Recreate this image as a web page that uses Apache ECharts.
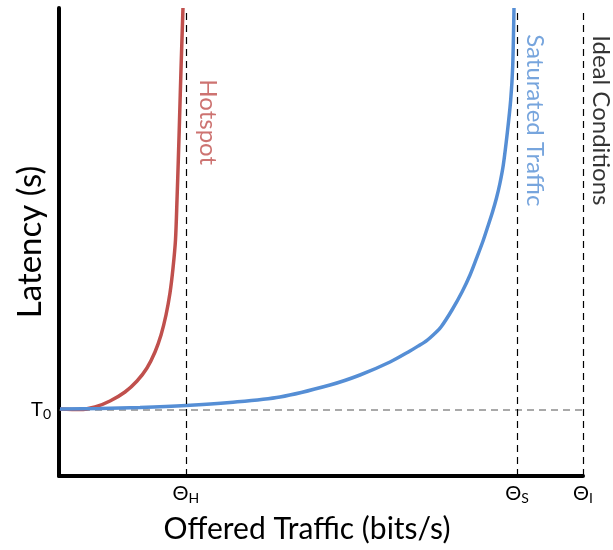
<!DOCTYPE html>
<html><head><meta charset="utf-8">
<script src="https://cdn.jsdelivr.net/npm/echarts@6/dist/echarts.min.js"></script>
<style>html,body{margin:0;padding:0;background:#fff}#c{width:613px;height:550px}</style>
</head><body><div id="c"></div>
<script>
// Data (arbitrary units: x 0-100 offered traffic, y 0-100 latency)
const T0 = 14.1;
const thetaH = 24.2, thetaS = 87.4, thetaI = 100;
const hotspot = [[0.19,14.32],[4.01,14.21],[6.87,14.74],[9.73,16.03],[12.6,17.95],[14.89,20.3],[16.79,23.08],[18.32,26.5],[19.47,30.13],[20.42,34.4],[21.18,39.1],[21.76,44.44],[22.23,50.43],[22.52,58.97],[22.77,67.52],[23.0,76.07],[23.28,86.75],[23.66,100]];
const saturated = [[0.19,14.32],[7.82,14.42],[15.46,14.64],[24.24,15.06],[32.63,15.71],[42.18,16.88],[51.72,19.44],[57.44,21.58],[63.17,24.36],[66.98,26.71],[68.51,27.75],[70.23,29.0],[71.56,30.3],[72.9,31.84],[75.0,35.47],[76.91,39.32],[78.44,42.95],[79.77,46.79],[80.92,50.21],[81.87,53.42],[82.73,56.41],[83.49,59.4],[84.16,62.61],[84.79,66.45],[85.55,73.29],[86.2,80.34],[86.58,87.39],[86.83,100]];
const xTicks = [thetaH, thetaS, thetaI];
const xTickLabels = {H: thetaH, S: thetaS, I: thetaI};
const annotations = [
  {name:'Hotspot', value:[28.4,75.6], color:'#C0504D'},
  {name:'Saturated Traffic', value:[90.8,76], color:'#558ED5'},
  {name:'Ideal Conditions', value:[103.4,76], color:'#000'}
];
const FONT = 'Lato';
const chart = echarts.init(document.getElementById('c'));
const sub = {m:{fontSize:20,fontFamily:FONT,color:'#000'}, s:{fontSize:14,fontFamily:FONT,color:'#000',padding:[9,0,0,0]}};
chart.setOption({
  animation:false,
  grid:{left:59,right:30,top:8,bottom:74,containLabel:false,outerBoundsMode:'none'},
  xAxis:{type:'value',min:0,max:100,
    name:'Offered Traffic (bits/s)',nameLocation:'middle',nameGap:38,nameMoveOverlap:false,
    nameTextStyle:{fontSize:30,fontFamily:FONT,color:'#000',padding:[0,28,0,0]},
    axisLine:{show:true,lineStyle:{color:'#000',width:4}},
    axisTick:{show:false},splitLine:{show:false},
    axisLabel:{customValues:xTicks,margin:6,fontFamily:FONT,
      formatter:v=>{const k=Object.keys(xTickLabels).find(k=>Math.abs(xTickLabels[k]-v)<0.01);return '{m|Θ}{s|'+k+'}';},
      rich:sub}},
  yAxis:{type:'value',min:0,max:100,
    name:'Latency (s)',nameLocation:'middle',nameGap:12,nameMoveOverlap:false,
    nameTextStyle:{fontSize:33,fontFamily:FONT,color:'#000'},
    axisLine:{show:true,lineStyle:{color:'#000',width:4}},
    axisTick:{show:false},splitLine:{show:false},
    axisLabel:{customValues:[T0],margin:8,formatter:()=>'{m|T}{s|0}',rich:sub}},
  series:[
    {type:'line',data:hotspot,smooth:0.3,symbol:'none',lineStyle:{color:'#C0504D',width:3.5},z:3,
     markLine:{silent:true,symbol:'none',label:{show:false},lineStyle:{color:'#000',type:[7,5],width:1.2},
       data:[{xAxis:thetaH},{xAxis:thetaS},{xAxis:thetaI}]}},
    {type:'line',data:saturated,smooth:0.3,symbol:'none',lineStyle:{color:'#558ED5',width:3.5},z:3},
    {type:'line',data:[[0,T0],[105.7,T0]],clip:false,symbol:'none',lineStyle:{color:'#555',type:[7,5],width:1.2},z:2},
    {type:'scatter',clip:false,symbolSize:0,
     data:annotations.map(a=>({name:a.name,value:a.value,label:{color:a.color}})),
     label:{show:true,position:'inside',rotate:-90,formatter:p=>p.name,fontSize:24,fontFamily:FONT}}
  ]
});
</script></body></html>
